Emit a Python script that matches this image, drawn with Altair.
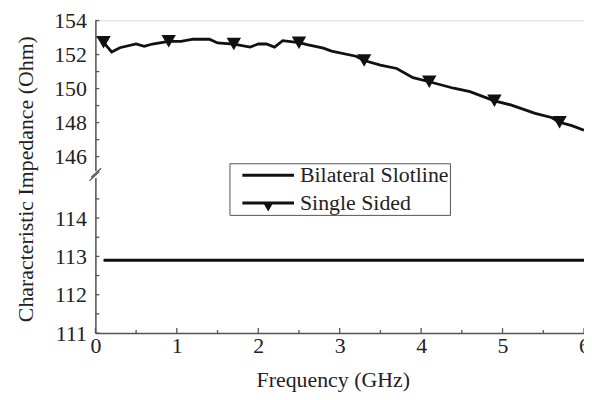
import altair as alt
import pandas as pd

# ---------------- data ----------------
freq_single = [0.1, 0.2, 0.3, 0.5, 0.6, 0.7, 0.9, 1.05, 1.2, 1.4, 1.5, 1.7, 1.9, 2.0,
               2.1, 2.2, 2.3, 2.5, 2.6, 2.8, 2.9, 3.2, 3.3, 3.5, 3.7, 3.9, 4.1, 4.4,
               4.6, 4.9, 5.1, 5.4, 5.6, 5.7, 5.85, 6.0]
imp_single = [152.72, 152.15, 152.40, 152.62, 152.48, 152.62, 152.78, 152.78, 152.90,
              152.90, 152.68, 152.62, 152.44, 152.62, 152.62, 152.44, 152.82, 152.70,
              152.58, 152.38, 152.20, 151.90, 151.65, 151.38, 151.18, 150.64, 150.40,
              150.02, 149.82, 149.28, 149.04, 148.54, 148.30, 148.02, 147.82, 147.55]
marker_freq = [0.1, 0.9, 1.7, 2.5, 3.3, 4.1, 4.9, 5.7]

freq_bilateral = [0.1, 6.0]
imp_bilateral = [112.9, 112.9]

series_names = ["Bilateral Slotline", "Single Sided"]

x_major = [0, 1, 2, 3, 4, 5, 6]
x_minor = [0.5, 1.5, 2.5, 3.5, 4.5, 5.5]
y_labeled = [111, 112, 113, 114, 146, 148, 150, 152, 154]
y_all_ticks = [111, 111.5, 112, 112.5, 113, 113.5, 114, 114.5,
               146, 147, 148, 149, 150, 151, 152, 153, 154]
break_value = 145.0

# broken axis: lower segment 111..115, upper segment 145..154
LOW0, LOW_K = 111.0, 38.6
UP0, UP_OFF, UP_K = 146.0, 177.7, 17.125
SPLIT = 130.0


def brk(v):
    return (v - LOW0) * LOW_K if v < SPLIT else UP_OFF + (v - UP0) * UP_K


calc = f"datum.imp < {SPLIT} ? (datum.imp - {LOW0}) * {LOW_K} : {UP_OFF} + (datum.imp - {UP0}) * {UP_K}"
inv = (f"(datum.value < {UP_OFF - 10} ? {LOW0} + datum.value / {LOW_K} : "
       f"{UP0} + (datum.value - {UP_OFF}) / {UP_K})")

FONT = "Liberation Serif"
AX = "#555555"
INK = "#111111"
TXT = "#222222"
W, H = 492, 315

df_single = pd.DataFrame({"freq": freq_single, "imp": imp_single, "series": "Single Sided"})
df_bil = pd.DataFrame({"freq": freq_bilateral, "imp": imp_bilateral, "series": "Bilateral Slotline"})
df_markers = df_single[df_single["freq"].isin(marker_freq)]

xscale = alt.Scale(domain=[0, 6], nice=False)
yscale = alt.Scale(domain=[0, H], nice=False, zero=False)

x_axis = alt.Axis(
    values=x_major, format="d", ticks=False, tickSize=0, grid=False, domainColor=AX,
    domainWidth=1.5, labelFont=FONT, labelFontSize=22, labelColor=TXT, labelPadding=3,
    labelOverlap=False, labelFlush=False,
    title="Frequency (GHz)", titleFont=FONT, titleFontSize=22, titleFontWeight="normal",
    titleColor=TXT, titleX=239, titleY=54, titleBaseline="alphabetic", titleAlign="center")
y_axis = alt.Axis(
    values=[brk(v) for v in y_labeled], labelExpr=f"format(round({inv}), 'd')",
    ticks=False, tickSize=0, grid=False, domainColor=AX, domainWidth=1.5,
    labelFont=FONT, labelFontSize=22, labelColor=TXT, labelPadding=9, labelOverlap=False,
    labelFlush=False, labelBound=False,
    title="Characteristic Impedance (Ohm)", titleFont=FONT, titleFontSize=22,
    titleFontWeight="normal", titleColor=TXT, titleAngle=270, titleX=-63, titleY=159.5,
    titleBaseline="alphabetic", titleAlign="center")


def X(field="freq"):
    return alt.X(f"{field}:Q", scale=xscale, axis=x_axis)


def Y(field="d"):
    return alt.Y(f"{field}:Q", scale=yscale, axis=y_axis)


line_single = alt.Chart(df_single).transform_calculate(d=calc).mark_line(
    color=INK, strokeWidth=2.8).encode(x=X(), y=Y())
line_bil = alt.Chart(df_bil).transform_calculate(d=calc).mark_line(
    color=INK, strokeWidth=2.8).encode(x=X(), y=Y())
markers = alt.Chart(df_markers).transform_calculate(d=calc).mark_point(
    shape="triangle-down", filled=True, color=INK, size=210, opacity=1).encode(x=X(), y=Y())

# legend symbols (filled custom paths): a bar-line, and a bar-line with a down triangle
legend_paths = ["M0.1,-0.15H5.3V0.15H0.1Z",
                "M0.1,-0.15H5.3V0.15H0.1Z M2.12,-0.15H3.28L2.7,0.85Z"]

# inward tick marks
xt_major = alt.Chart(pd.DataFrame({"freq": x_major})).mark_rule(color=AX, strokeWidth=1.3).encode(
    x=X(), y=alt.value(H), y2=alt.value(H - 5))
xt_minor = alt.Chart(pd.DataFrame({"freq": x_minor})).mark_rule(color=AX, strokeWidth=1.3).encode(
    x=X(), y=alt.value(H), y2=alt.value(H - 3))
yt = alt.Chart(pd.DataFrame({"imp": y_all_ticks})).transform_calculate(d=calc).mark_rule(
    color=AX, strokeWidth=1.3).encode(y=Y(), x=alt.value(0), x2=alt.value(4))

# axis break marks
b0 = brk(break_value)
brk_white = alt.Chart(pd.DataFrame({"d": [b0 - 4.5], "b": [b0 + 2.5]})).mark_rule(
    color="white", strokeWidth=3).encode(y=Y(), y2="b:Q", x=alt.value(0))
brk_rows = [(b0 - 7.3, b0 + 2.1, -6, 4), (b0 - 3.9, b0 + 5.4, -4.3, 5.7)]
brk_marks = [
    alt.Chart(pd.DataFrame({"d": [a], "b": [b]})).mark_rule(color=AX, strokeWidth=1.3).encode(
        y=Y(), y2="b:Q", x=alt.value(x0), x2=alt.value(x1))
    for a, b, x0, x1 in brk_rows]

legend_layer = alt.Chart(df_single).transform_filter("false").mark_point(
    filled=True, color=INK, opacity=1).encode(
    shape=alt.Shape("series:N", scale=alt.Scale(domain=series_names, range=legend_paths),
                    legend=alt.Legend(title=None, orient="none", legendX=135, legendY=144,
                                      labelFont=FONT, labelFontSize=22, labelColor=TXT,
                                      symbolSize=400, symbolFillColor=INK, symbolOpacity=1,
                                      symbolStrokeWidth=0, labelOffset=48, rowPadding=6,
                                      padding=1, strokeColor=AX, fillColor="white",
                                      cornerRadius=0)))

chart = alt.layer(
    xt_major, xt_minor, yt, line_bil, line_single, markers, brk_white, *brk_marks, legend_layer
).properties(
    width=W, height=H, autosize="none",
    padding={"left": 88, "top": 11, "right": 0, "bottom": 58},
).configure_axis(labelOverlap=False).configure_view(stroke=None).configure(background="white")

chart.save("out.html", embed_options={"renderer": "svg", "actions": False})
